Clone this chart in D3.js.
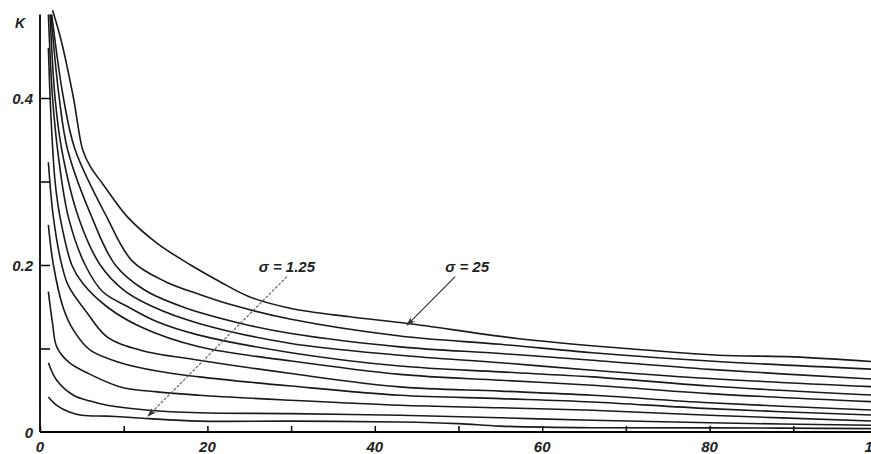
<!DOCTYPE html>
<html>
<head>
<meta charset="utf-8">
<script src="https://cdn.jsdelivr.net/npm/d3@7"></script>
<style>
  body { margin: 0; background: #fff; }
  svg text { font-family: "Liberation Sans", Arial, sans-serif; font-style: italic; font-weight: bold; fill: #222; }
  .curve { fill: none; stroke: #1a1a1a; stroke-width: 1.6px; }
</style>
</head>
<body>
<div id="chart"></div>
<script>
// K against x, one line per sigma (1.25 at the bottom, 25 at the top)
const sigmas = [1.25, 2.5, 3.75, 5, 7.5, 10, 12.5, 15, 17.5, 20, 25];

const c1 = [[1,0.042],[2,0.032],[3.5,0.024],[5,0.02],[8,0.019],[10,0.018],[13,0.016],[19,0.013],[30,0.013],[43,0.012],[50,0.01],[55,0.007],[66,0.005],[80,0.005],[100,0.004]];
const c2 = [[1,0.083],[2,0.062],[4,0.044],[6,0.037],[8,0.032],[13,0.026],[19,0.023],[30,0.022],[43,0.02],[55,0.017],[66,0.014],[80,0.011],[100,0.008]];
const c3 = [[1,0.168],[1.5,0.13],[2,0.102],[3.5,0.083],[5.6,0.071],[9.6,0.054],[14,0.048],[19,0.044],[30,0.038],[43,0.032],[55,0.029],[66,0.026],[80,0.02],[100,0.013]];
const c4 = [[1,0.248],[1.6,0.2],[2.8,0.148],[4,0.122],[6,0.098],[9.6,0.083],[14,0.073],[19,0.066],[30,0.055],[43,0.044],[55,0.04],[66,0.036],[80,0.028],[100,0.02]];
const c5 = [[1,0.323],[1.6,0.257],[2.6,0.2],[3.4,0.175],[5.6,0.143],[8,0.114],[12,0.098],[19,0.086],[30,0.07],[43,0.054],[55,0.049],[66,0.044],[80,0.035],[100,0.026]];
const c6 = [[1,0.46],[1.3,0.38],[1.8,0.3],[2.4,0.257],[3.8,0.2],[5.1,0.178],[8,0.15],[12,0.126],[19,0.102],[30,0.085],[43,0.069],[55,0.062],[66,0.056],[80,0.046],[100,0.036]];
const c7 = [[1,0.5],[1.5,0.4],[2.2,0.33],[3.4,0.257],[5.4,0.2],[7.5,0.168],[10.5,0.15],[14,0.132],[19,0.116],[30,0.095],[43,0.079],[55,0.072],[66,0.066],[80,0.055],[100,0.044]];
const c8 = [[1.2,0.5],[1.8,0.4],[2.6,0.338],[4.6,0.257],[7.2,0.2],[10,0.17],[13.5,0.15],[19,0.13],[30,0.106],[43,0.092],[55,0.083],[66,0.074],[80,0.064],[100,0.054]];
const c9 = [[1.3,0.5],[2.3,0.4],[3.3,0.338],[6.2,0.257],[9,0.2],[12.5,0.17],[17,0.15],[24,0.13],[30,0.118],[43,0.102],[55,0.094],[66,0.086],[80,0.075],[100,0.063]];
const c10 = [[1.4,0.5],[2.8,0.4],[4.2,0.338],[8,0.257],[11,0.205],[15,0.18],[19,0.165],[23,0.152],[30,0.135],[43,0.115],[55,0.105],[66,0.095],[80,0.085],[100,0.075]];
const c11 = [[1.5,0.505],[2.5,0.47],[4,0.4],[5.1,0.338],[6,0.318],[7.5,0.297],[10.5,0.257],[14,0.226],[18,0.2],[21.5,0.18],[25,0.162],[30,0.148],[37,0.138],[44,0.13],[57,0.112],[70,0.1],[81,0.092],[90,0.09],[100,0.084]];
const curves = [c1, c2, c3, c4, c5, c6, c7, c8, c9, c10, c11];

const xTicks = [0, 10, 20, 30, 40, 50, 60, 70, 80, 90, 100];
const xLabels = [0, 20, 40, 60, 80, 100];
const yTicks = [0.1, 0.2, 0.3, 0.4];
const yLabels = [0, 0.2, 0.4];

// annotations: [label, tail x, tail K, tip x, tip K, label shift]
const notes = [["σ = 1.25", 29.5, 0.186, 12.9, 0.019, 0], ["σ = 25", 49.6, 0.186, 43.85, 0.128, 12]];

const width = 871, height = 454;
const x = d3.scaleLinear().domain([0, 100]).range([40, 877]);
const y = d3.scaleLinear().domain([0, 0.5]).range([432, 14.5]);

const svg = d3.select("#chart").append("svg")
    .attr("width", width).attr("height", height);

svg.append("defs").append("marker")
    .attr("id", "head").attr("viewBox", "0 0 10 10")
    .attr("refX", 9).attr("refY", 5)
    .attr("markerWidth", 9).attr("markerHeight", 9)
    .attr("markerUnits", "userSpaceOnUse")
    .attr("orient", "auto")
    .append("path").attr("d", "M0,1.5 L10,5 L0,8.5 L2.5,5 Z").attr("fill", "#333");

// axes
let xAxis = svg.append("g").attr("transform", "translate(0," + y(0) + ")")
    .call(d3.axisBottom(x).tickValues(xTicks).tickSize(-6).tickFormat(""));
xAxis.select(".domain").attr("d", "M" + x(0) + ",0H" + width).attr("stroke-width", 2);
xAxis.selectAll(".tick line").attr("stroke-width", 1.5);

let yAxis = svg.append("g").attr("transform", "translate(" + x(0) + ",0)")
    .call(d3.axisLeft(y).tickValues(yTicks).tickSize(-10).tickFormat(""));
yAxis.select(".domain").attr("d", "M0," + y(0) + "V" + y(0.5)).attr("stroke-width", 1.8);
yAxis.selectAll(".tick line").attr("stroke-width", 1.5);

svg.selectAll(".xlab").data(xLabels).join("text")
    .attr("class", "xlab")
    .attr("x", d => x(d)).attr("y", 452)
    .attr("text-anchor", "middle").attr("font-size", 15)
    .text(d => d);

svg.selectAll(".ylab").data(yLabels).join("text")
    .attr("class", "ylab")
    .attr("x", 33).attr("y", d => y(d) + 6)
    .attr("text-anchor", "end").attr("font-size", 15)
    .text(d => d === 0 ? "0" : d3.format(".1f")(d));

svg.append("text").attr("x", 15).attr("y", 28).attr("font-size", 14)
    .attr("font-weight", "normal").text("K");

// curves
const line = d3.line().x(d => x(d[0])).y(d => y(d[1])).curve(d3.curveCatmullRom.alpha(0.5));
svg.selectAll(".curve").data(curves).join("path")
    .attr("class", "curve")
    .attr("d", line);

// labels with arrows
notes.forEach((n, i) => {
    svg.append("line")
        .attr("x1", x(n[1])).attr("y1", y(n[2]))
        .attr("x2", x(n[3])).attr("y2", y(n[4]))
        .attr("stroke", i === 0 ? "#666" : "#333").attr("stroke-width", 1.2)
        .attr("stroke-dasharray", i === 0 ? "3,1.5" : null)
        .attr("marker-end", "url(#head)");
    svg.append("text")
        .attr("x", x(n[1]) + n[5]).attr("y", y(n[2]) - 5)
        .attr("text-anchor", "middle").attr("font-size", 15)
        .attr("xml:space", "preserve")
        .text(n[0]);
});
</script>
</body>
</html>
